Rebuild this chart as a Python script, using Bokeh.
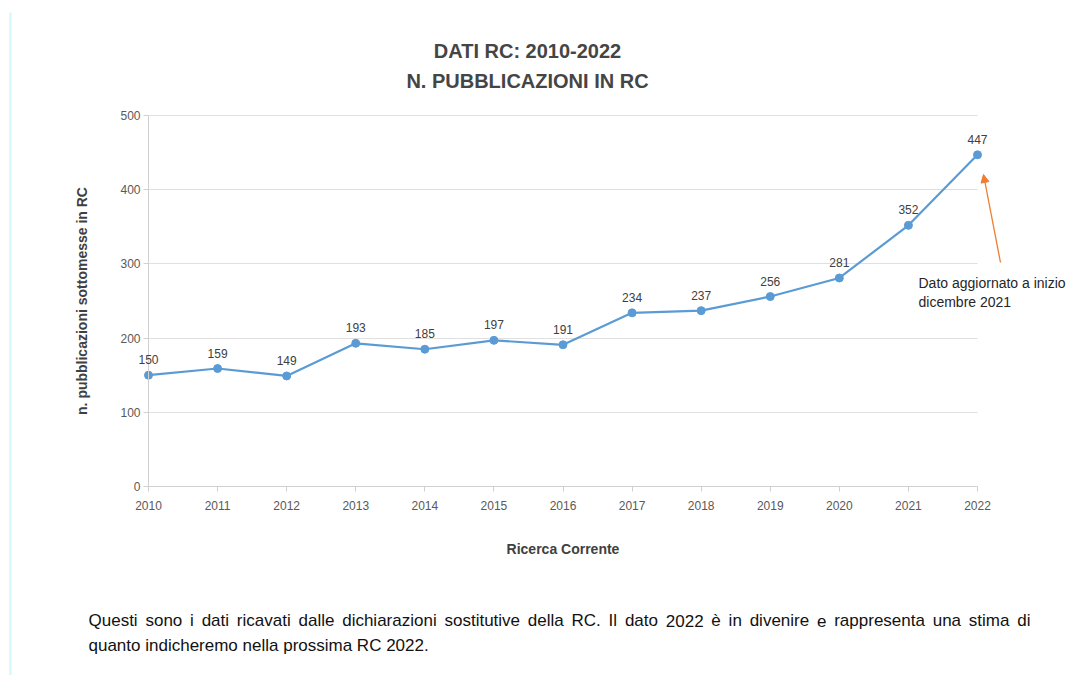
from bokeh.plotting import figure
from bokeh.models import ColumnDataSource, Label, Arrow, NormalHead, FixedTicker, LabelSet, Grid
from bokeh.core.properties import value
from bokeh.embed import file_html
from bokeh.resources import INLINE

years = [2010, 2011, 2012, 2013, 2014, 2015, 2016, 2017, 2018, 2019, 2020, 2021, 2022]
publications = [150, 159, 149, 193, 185, 197, 191, 234, 237, 256, 281, 352, 447]
y_ticks = [0, 100, 200, 300, 400, 500]

title_lines = ["DATI RC: 2010-2022", "N. PUBBLICAZIONI IN RC"]
note_lines = ["Dato aggiornato a inizio", "dicembre 2021"]
footer_lines = [
    "Questi sono i dati ricavati dalle dichiarazioni sostitutive della RC. Il dato 2022 è in divenire e rappresenta una stima di",
    "quanto indicheremo nella prossima RC 2022.",
]

FONT = "Liberation Sans"
W, H = 1077, 675

# layout of the plot area inside the canvas (pixels)
X0_PX, X1_PX = 148, 977      # x positions of first and last year
Y0_PX, Y1_PX = 486, 115      # y positions of 0 and 500
XMIN, XMAX = years[0], years[-1]
YMIN, YMAX = y_ticks[0], y_ticks[-1]
ppx = (X1_PX - X0_PX) / (XMAX - XMIN)
ppy = (Y0_PX - Y1_PX) / (YMAX - YMIN)

def dx(px):
    return XMIN + (px - X0_PX) / ppx

def dy(py):
    return YMIN + (Y0_PX - py) / ppy

p = figure(width=W, height=H, output_backend="svg", toolbar_location=None,
           x_range=(dx(0), dx(W)), y_range=(dy(H), dy(0)),
           min_border_left=0, min_border_right=0, min_border_top=0, min_border_bottom=0)
p.outline_line_color = None
p.background_fill_color = "white"
p.border_fill_color = "white"

# axes drawn inside the canvas at the plot-area edges
p.xaxis.fixed_location = YMIN
p.yaxis.fixed_location = XMIN
p.xaxis.bounds = (XMIN, XMAX)
p.yaxis.bounds = (YMIN, YMAX)
p.xaxis.ticker = FixedTicker(ticks=years)
p.yaxis.ticker = FixedTicker(ticks=y_ticks)
for ax in (p.xaxis, p.yaxis):
    ax.axis_line_color = "#d0d0d0"
    ax.major_tick_line_color = "#d0d0d0"
    ax.minor_tick_line_color = None
    ax.major_tick_in = 0
    ax.major_tick_out = 5
    ax.major_label_text_font = FONT
    ax.major_label_text_font_size = "12px"
    ax.major_label_text_color = "#595959"
    ax.axis_label_text_font = FONT
    ax.axis_label_text_font_size = "14px"
    ax.axis_label_text_font_style = "bold"
    ax.axis_label_text_color = "#404040"
p.xaxis.axis_label = "Ricerca Corrente"
p.yaxis.axis_label = "n. pubblicazioni sottomesse in RC"
p.xaxis.major_label_standoff = 9
p.yaxis.major_label_standoff = 3
p.xaxis.axis_label_standoff = 28
p.yaxis.axis_label_standoff = 27

# horizontal gridlines limited to the plot area
p.xgrid.grid_line_color = None
p.ygrid.grid_line_color = None
if "cross_bounds" in Grid.properties():
    g = Grid(dimension=1, ticker=FixedTicker(ticks=y_ticks[1:]), cross_bounds=(XMIN, XMAX),
             grid_line_color="#e0e0e0", grid_line_width=1)
    p.add_layout(g)
else:
    p.segment(x0=[XMIN] * (len(y_ticks) - 1), x1=[XMAX] * (len(y_ticks) - 1),
              y0=y_ticks[1:], y1=y_ticks[1:], line_color="#e0e0e0", line_width=1)

src = ColumnDataSource(dict(x=years, y=publications, lbl=[str(v) for v in publications]))
p.line("x", "y", source=src, line_color="#5b9bd5", line_width=2.2)
p.scatter("x", "y", source=src, size=8, fill_color="#5b9bd5", line_color="#5b9bd5")

labels = LabelSet(x="x", y="y", text="lbl", source=src, text_align="center", text_baseline="bottom",
                  y_offset=11, text_font=value(FONT), text_font_size="12px", text_color="#404040")
p.add_layout(labels)

# title
for i, t in enumerate(title_lines):
    p.add_layout(Label(x=dx(527), y=dy(50 + 30 * i), text=t, text_align="center", text_baseline="middle",
                       text_font=FONT, text_font_size="20px", text_font_style="bold", text_color="#454545"))

# annotation arrow + note
p.add_layout(Arrow(x_start=dx(1000), y_start=dy(262), x_end=dx(983), y_end=dy(174),
                   line_color="#ed7d31", line_width=1.3,
                   end=NormalHead(size=8, fill_color="#ed7d31", line_color="#ed7d31")))
for i, t in enumerate(note_lines):
    p.add_layout(Label(x=dx(918), y=dy(282 + 19 * i), text=t, text_align="left", text_baseline="middle",
                       text_font=FONT, text_font_size="14px", text_color="#262626"))

# footer text (first line justified word by word, Arial/Liberation Sans advance widths)
ADV = {" ": 278, "Q": 778, "R": 722, "C": 722, "I": 278, ".": 278, "è": 556, "m": 833,
       "i": 222, "l": 222, "t": 278, "f": 278, "r": 333, "s": 500, "c": 500, "v": 500, "z": 500}
def text_w(s, size):
    return sum(ADV.get(ch, 556) for ch in s) * size / 1000.0

FOOT_SIZE = 17
FOOT_LEFT, FOOT_RIGHT = 88, 1030
FOOT_MID = [620, 645]
words = footer_lines[0].split(" ")
widths = [text_w(w, FOOT_SIZE) for w in words]
gap = (FOOT_RIGHT - FOOT_LEFT - sum(widths)) / (len(words) - 1)
xpos = FOOT_LEFT
for w, ww in zip(words, widths):
    p.add_layout(Label(x=dx(xpos), y=dy(FOOT_MID[0]), text=w, text_align="left", text_baseline="middle",
                       text_font=FONT, text_font_size=f"{FOOT_SIZE}px", text_color="#111111"))
    xpos += ww + gap
p.add_layout(Label(x=dx(FOOT_LEFT), y=dy(FOOT_MID[1]), text=footer_lines[1], text_align="left",
                   text_baseline="middle",
                   text_font=FONT, text_font_size=f"{FOOT_SIZE}px", text_color="#111111"))

# faint cyan left border line
p.add_layout(Arrow(x_start=dx(10), y_start=dy(12), x_end=dx(10), y_end=dy(H), end=None,
                   line_color="#d6f6f8", line_width=2))

open("out.html", "w").write(file_html(p, INLINE))
